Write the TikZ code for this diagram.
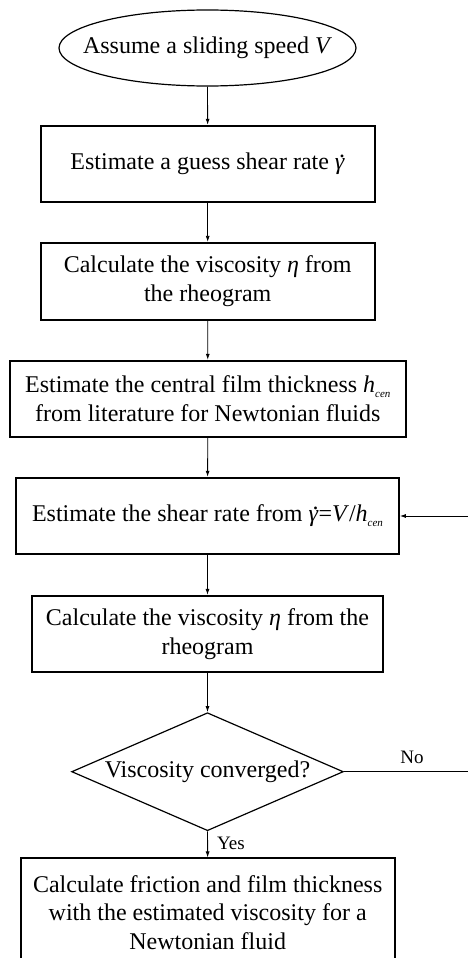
\documentclass[tikz,border=0pt]{standalone}
\usepackage{fontspec}
\setmainfont{Liberation Serif}
\usetikzlibrary{shapes.geometric,arrows.meta}
\newcommand\lowsub[1]{\raisebox{-0.4ex}{\fontsize{11}{11}\selectfont\itshape #1}}
\newcommand\gdot{\makebox[0pt][l]{\hspace{0.17em}\raisebox{0.5em}{.}}\textit{γ}}
\begin{document}
\begin{tikzpicture}[x=1pt,y=-1pt,
  txt/.style={font=\fontsize{24}{28.5}\selectfont, align=center, inner sep=0pt},
  procbox/.style={txt, draw, line width=1.8pt, rectangle},
  startnode/.style={txt, draw, line width=1.2pt, ellipse, minimum width=297pt, minimum height=76pt},
  decision/.style={txt, draw, line width=1.2pt, diamond, aspect=2.3, minimum width=271.7pt, minimum height=118pt},
  flow/.style={line width=0.8pt, -{Latex[length=6pt,width=4pt]}},
  lbl/.style={font=\fontsize{19}{22}\selectfont, inner sep=0pt}]
\useasboundingbox (0,0) rectangle (467,958);
\node[startnode] (s) at (207.5,48) {\makebox[0pt]{Assume a sliding speed \textit{V}}};
\node[procbox, minimum width=334pt, minimum height=76pt] (b1) at (207.7,163.7) {Estimate a guess shear rate \gdot};
\node[procbox, minimum width=334pt, minimum height=77pt] (b2) at (207.7,281.3) {Calculate the viscosity \textit{η} from\\the rheogram};
\node[procbox, minimum width=395.7pt, minimum height=76pt] (b3) at (207.8,398.7) {Estimate the central film thickness \textit{h}\lowsub{cen}\\from literature for Newtonian fluids};
\node[procbox, minimum width=383pt, minimum height=76.6pt] (b4) at (207.5,516) {Estimate the shear rate from \gdot=\textit{V}/\textit{h}\lowsub{cen}};
\node[procbox, minimum width=351.6pt, minimum height=76.6pt] (b5) at (207.5,634) {Calculate the viscosity \textit{η} from the\\rheogram};
\node[decision] (d) at (207.5,771.7) {Viscosity converged?};
\node[procbox, minimum width=374pt, minimum height=107.7pt] (b6) at (207.7,912.2) {Calculate friction and film thickness\\with the estimated viscosity for a\\Newtonian fluid};
\coordinate (fb) at (470,771.7);
\draw[flow] (s) -- (b1);
\draw[flow] (b1) -- (b2);
\draw[flow] (b2) -- (b3);
\draw[flow] (b3) -- (b4);
\draw[flow] (b4) -- (b5);
\draw[flow] (b5) -- (d);
\draw[flow] (d) -- (b6);
\draw[flow] (d.east) -- (fb) |- (b4.east);
\node[lbl] (no) at (412,757) {No};
\node[lbl] (yes) at (231,843) {Yes};
\end{tikzpicture}
\end{document}
